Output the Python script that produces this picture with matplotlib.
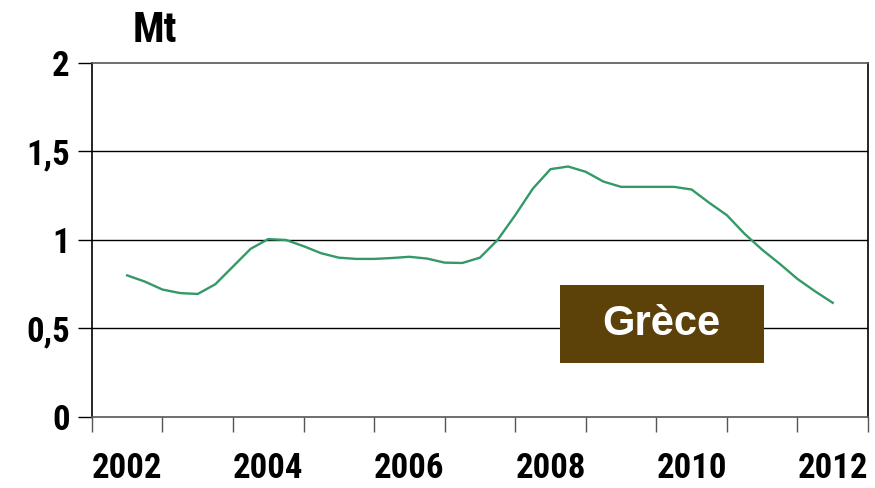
import numpy as np
import matplotlib.pyplot as plt
from matplotlib import font_manager
from matplotlib.patches import Rectangle

# Quarterly production (Mt)
years = np.arange(2002, 2012.01, 0.25)
production = [0.80, 0.765, 0.72, 0.70,
              0.695, 0.75, 0.85, 0.95,
              1.005, 1.00, 0.965, 0.925,
              0.90, 0.893, 0.893, 0.898,
              0.905, 0.895, 0.872, 0.870,
              0.90, 1.00, 1.14, 1.29,
              1.40, 1.415, 1.385, 1.33,
              1.30, 1.30, 1.30, 1.30,
              1.285, 1.21, 1.14, 1.035,
              0.945, 0.865, 0.78, 0.71,
              0.645]
label_years = [2002, 2004, 2006, 2008, 2010, 2012]
y_ticks = [0, 0.5, 1, 1.5, 2]
y_labels = ['0', '0,5', '1', '1,5', '2']
country = 'Grèce'
unit = 'Mt'

# pick a narrow bold face if one is around
names = {f.name for f in font_manager.fontManager.ttflist}
narrow = 'Liberation Sans'
for cand in ['Liberation Sans Narrow', 'Arial Narrow', 'Roboto Condensed',
             'Open Sans Condensed', 'Archivo Narrow', 'PT Sans Narrow']:
    if cand in names:
        narrow = cand
        break
lab_font = dict(family=narrow, fontweight='bold', fontsize=25)

fig = plt.figure(figsize=(8.75, 4.88), dpi=100)
ax = fig.add_axes([0.105, 0.1455, 0.887, 0.7255])

ax.plot(years, production, color='#339966', lw=1.7, zorder=3,
        solid_joinstyle='round')

ax.set_xlim(2001.5, 2012.5)
ax.set_ylim(0, 2)

# y axis
ax.set_yticks(y_ticks)
ax.set_yticklabels(y_labels, **lab_font)
ax.tick_params(axis='y', length=10, width=1, color='#000000', pad=6)
for v in y_ticks[1:-1]:
    ax.axhline(v, color='black', lw=1, zorder=1)

# x axis: ticks between years, labels every other year
ax.set_xticks(np.arange(2001.5, 2012.6, 1), minor=True)
ax.set_xticks(label_years)
ax.set_xticklabels([str(y) for y in label_years], **lab_font)
ax.tick_params(axis='x', which='major', length=0, pad=25)
ax.tick_params(axis='x', which='minor', length=11, width=1, color='#555555')

ax.spines['left'].set_color('black')
ax.spines['right'].set_color('black')
ax.spines['top'].set_color('#555555')
ax.spines['bottom'].set_color('#555555')
for s in ax.spines.values():
    s.set_linewidth(1.2)

fig.text(155 / 875, 1 - 30 / 488, unit, fontsize=30, fontweight='bold',
         family=narrow, ha='center', va='center')

ax.add_patch(Rectangle((0.603, 0.1525), 0.263, 0.2205, transform=ax.transAxes,
                       fc='#5C4209', ec='none', zorder=5))
ax.text(0.734, 0.262, country, transform=ax.transAxes, fontsize=30,
        fontweight='bold', color='white', family='Liberation Sans',
        ha='center', va='center', zorder=6)

fig.savefig('out.png', dpi=100)
